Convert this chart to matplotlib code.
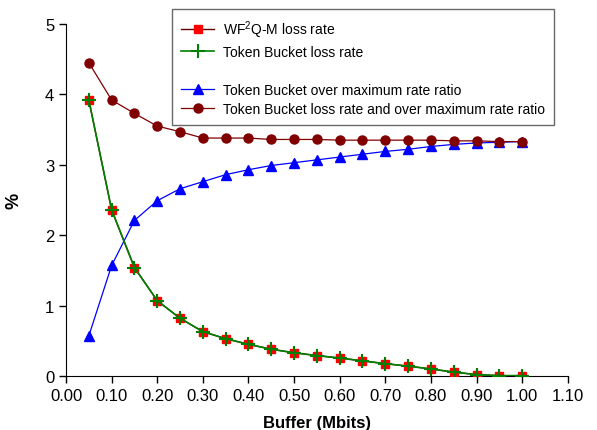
import matplotlib
matplotlib.use('Agg')
from matplotlib import pyplot as plt
from matplotlib.lines import Line2D

plt.rcParams['font.family'] = ['Liberation Sans', 'DejaVu Sans']
plt.rcParams['mathtext.fontset'] = 'custom'
plt.rcParams['mathtext.rm'] = 'Liberation Sans'
plt.rcParams['mathtext.it'] = 'Liberation Sans'

buffer_mbits = [0.05, 0.10, 0.15, 0.20, 0.25, 0.30, 0.35, 0.40, 0.45, 0.50,
                0.55, 0.60, 0.65, 0.70, 0.75, 0.80, 0.85, 0.90, 0.95, 1.00]
wf2qm_loss = [3.92, 2.36, 1.54, 1.07, 0.82, 0.63, 0.53, 0.45, 0.38, 0.33,
              0.29, 0.255, 0.215, 0.175, 0.14, 0.10, 0.055, 0.02, 0.005, 0.005]
tb_loss = [3.92, 2.36, 1.54, 1.07, 0.82, 0.63, 0.53, 0.45, 0.38, 0.33,
           0.29, 0.255, 0.215, 0.175, 0.14, 0.10, 0.055, 0.02, 0.005, 0.005]
tb_over_ratio = [0.57, 1.57, 2.21, 2.49, 2.66, 2.76, 2.86, 2.93, 2.99, 3.03,
                 3.07, 3.11, 3.15, 3.19, 3.22, 3.26, 3.29, 3.31, 3.32, 3.33]
tb_loss_and_over = [4.45, 3.92, 3.73, 3.55, 3.47, 3.38, 3.38, 3.38, 3.36, 3.36,
                    3.36, 3.35, 3.35, 3.35, 3.35, 3.35, 3.34, 3.34, 3.33, 3.33]

fig = plt.figure(figsize=(5.97, 4.31), dpi=100)
ax = fig.add_axes([0.1106, 0.1253, 0.8404, 0.8167])

l1, = ax.plot(buffer_mbits, wf2qm_loss, color='#600000', lw=1, marker='s',
              ms=5.8, mfc='red', mec='red', zorder=3)
l2, = ax.plot(buffer_mbits, tb_loss, color='green', lw=1.2, marker='+',
              ms=9.5, mew=1.5, zorder=4)
l3, = ax.plot(buffer_mbits, tb_over_ratio, color='blue', lw=0.9, marker='^',
              ms=6.5, mfc='blue', mec='blue', zorder=3)
l4, = ax.plot(buffer_mbits, tb_loss_and_over, color='#800000', lw=0.9, marker='o',
              ms=6.5, mfc='#800000', mec='#800000', zorder=3)

ax.set_xlim(0, 1.10)
ax.set_ylim(0, 5)
ax.set_xticks([i * 0.1 for i in range(12)])
ax.set_xticklabels(['%.2f' % (i * 0.1) for i in range(12)], fontsize=12)
ax.set_yticks(range(6))
ax.set_yticklabels([str(i) for i in range(6)], fontsize=12)
ax.tick_params(direction='out', length=5, width=1)
ax.spines['top'].set_visible(False)
ax.spines['right'].set_visible(False)
ax.set_xlabel('Buffer (Mbits)', fontsize=12, fontweight='bold', labelpad=9)
ax.set_ylabel('%', fontsize=13, fontweight='bold')
ax.yaxis.set_label_coords(-0.086, 0.5)

blank = Line2D([], [], color='none')
leg = fig.legend([l1, l2, blank, l3, l4],
                 ['WF$^2$Q-M loss rate', 'Token Bucket loss rate', ' ',
                  'Token Bucket over maximum rate ratio',
                  'Token Bucket loss rate and over maximum rate ratio'],
                 loc='upper left', bbox_to_anchor=(172 / 597, 1 - 10 / 431),
                 borderaxespad=0,
                 fontsize=10, frameon=True, fancybox=False, edgecolor='#444444',
                 handlelength=2.4, handletextpad=0.6, labelspacing=0.36,
                 borderpad=0.65, markerscale=1.0)
leg.get_frame().set_linewidth(1)

fig.savefig('out.png', dpi=100)
